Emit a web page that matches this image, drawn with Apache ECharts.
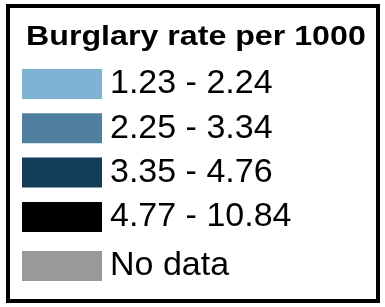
<!DOCTYPE html>
<html>
<head>
<meta charset="utf-8">
<script src="https://cdn.jsdelivr.net/npm/echarts@6/dist/echarts.min.js"></script>
<style>
	html, body { margin: 0; padding: 0; background: #fff; }
	#legend { width: 385px; height: 307px; }
</style>
</head>
<body>
<div id="legend"></div>
<script>
const titleText = 'Burglary rate per 1000';
const classNames = ['1.23 - 2.24', '2.25 - 3.34', '3.35 - 4.76', '4.77 - 10.84'];
const classColors = ['#7fb2d5', '#50809f', '#133d59', '#000000'];
const noDataName = 'No data';
const noDataColor = '#999999';

const legendData = classNames.concat([noDataName]);
const legendColors = classColors.concat([noDataColor]);

const chart = echarts.init(document.getElementById('legend'));

const legendText = {
	fontFamily: '"Liberation Sans Narrow", "Liberation Sans", Arial, sans-serif',
	fontSize: 34,
	color: '#000',
	padding: [0, 0, 0, 3],
};

chart.setOption({
	backgroundColor: '#fff',
	animation: false,
	graphic: [
		{ // frame
			type: 'rect',
			shape: { x: 8, y: 6, width: 370, height: 295 },
			style: { fill: '#fff', stroke: '#000', lineWidth: 4 },
			z: -10,
		},
		{
			type: 'text',
			x: 26,
			y: 23,
			scaleX: 1.17,
			style: {
				text: titleText,
				font: 'bold 27.5px "Liberation Sans", Arial, sans-serif',
				fill: '#000',
			},
		},
	],
	legend: [
		{
			orient: 'vertical',
			left: 22,
			top: 67,
			padding: 0,
			itemWidth: 80,
			itemHeight: 30,
			itemGap: 10.3,
			icon: 'rect',
			selectedMode: false,
			data: classNames,
			textStyle: legendText,
		},
		{
			orient: 'vertical',
			left: 22,
			top: 249,
			padding: 0,
			itemWidth: 80,
			itemHeight: 30,
			icon: 'rect',
			selectedMode: false,
			data: [noDataName],
			textStyle: legendText,
		},
	],
	series: [
		{
			type: 'pie',
			radius: 0,
			center: [-100, -100],
			silent: true,
			label: { show: false },
			labelLine: { show: false },
			data: legendData.map((name, i) => ({
				name: name,
				value: 1,
				itemStyle: { color: legendColors[i] },
			})),
		},
	],
});
</script>
</body>
</html>
